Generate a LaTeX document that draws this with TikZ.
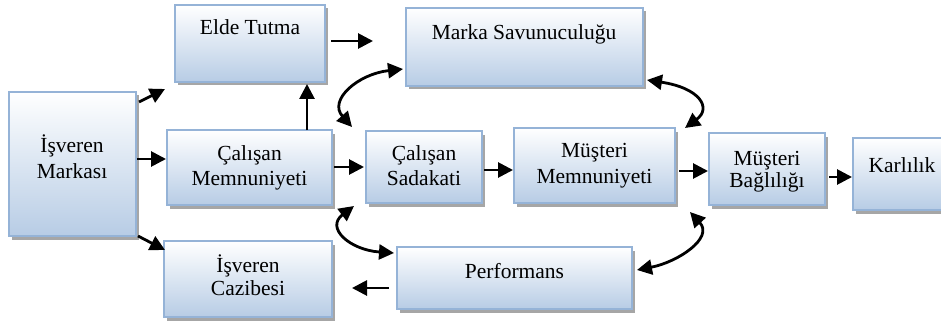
\documentclass[tikz,border=0pt]{standalone}
\usepackage{fontspec}
\setmainfont{Liberation Serif}
\usetikzlibrary{arrows.meta,shadows}
\definecolor{bordc}{RGB}{149,179,215}
\definecolor{botc}{RGB}{183,204,229}
\tikzset{
  box/.style={draw=bordc, line width=2.8pt, top color=white, bottom color=botc,
    drop shadow={shadow xshift=3pt, shadow yshift=-3.5pt, fill=black, opacity=0.35},
    inner sep=0pt},
  lbl/.style={font=\fontsize{21.5}{26}\selectfont, inner sep=0pt, anchor=base},
  arr/.style={line width=2.8pt, -{Triangle[length=15pt,width=15pt]}},
  darr/.style={line width=2.8pt, {Triangle[length=15pt,width=15pt]}-{Triangle[length=15pt,width=15pt]}},
}
\begin{document}
\begin{tikzpicture}[x=1pt,y=-1pt]
\useasboundingbox (0,0) rectangle (941,326);
% boxes
\node[box, minimum width=150pt, minimum height=77pt] (elde) at (250,43.5) {};
\node[box, minimum width=237pt, minimum height=78pt] (marka) at (524.5,47) {};
\node[box, minimum width=127pt, minimum height=144pt] (im) at (72.5,164) {};
\node[box, minimum width=165pt, minimum height=75pt] (cm) at (249.5,167.5) {};
\node[box, minimum width=116pt, minimum height=72pt] (cs) at (424,167) {};
\node[box, minimum width=161pt, minimum height=75pt] (mm) at (594.5,165.5) {};
\node[box, minimum width=116pt, minimum height=72pt] (mb) at (767,169) {};
\node[box, minimum width=110pt, minimum height=72pt] (kar) at (908,174) {};
\node[box, minimum width=168pt, minimum height=76pt] (ic) at (248,279) {};
\node[box, minimum width=235pt, minimum height=62pt] (perf) at (514.5,278) {};
% texts
\node[lbl] (t1) at (250,35) {Elde Tutma};
\node[lbl] (t2) at (524,40) {Marka Savunuculuğu};
\node[lbl] (t3a) at (72,152) {İşveren};
\node[lbl] (t3b) at (72,178) {Markası};
\node[lbl] (t4a) at (249.5,160) {Çalışan};
\node[lbl] (t4b) at (249.5,185) {Memnuniyeti};
\node[lbl] (t5a) at (424,160) {Çalışan};
\node[lbl] (t5b) at (424,185) {Sadakati};
\node[lbl] (t6a) at (594.5,157) {Müşteri};
\node[lbl] (t6b) at (594.5,183) {Memnuniyeti};
\node[lbl] (t7a) at (767,165) {Müşteri};
\node[lbl] (t7b) at (767,187) {Bağlılığı};
\node[lbl] (t8) at (902,172) {Karlılık};
\node[lbl] (t9a) at (248,272) {İşveren};
\node[lbl] (t9b) at (248,295) {Cazibesi};
\node[lbl] (t10) at (514.5,278) {Performans};
% connector ends
\coordinate (a1s) at (331,41);  \coordinate (a1e) at (373,41);
\coordinate (a2s) at (139,102); \coordinate (a2e) at (165,89);
\coordinate (a3s) at (137,159); \coordinate (a3e) at (166,159);
\coordinate (a4s) at (138,236); \coordinate (a4e) at (165,250);
\coordinate (a5s) at (307,130); \coordinate (a5e) at (307,84);
\coordinate (a6s) at (334,167); \coordinate (a6e) at (364,167);
\coordinate (a7s) at (484,170); \coordinate (a7e) at (513,170);
\coordinate (a8s) at (679,171); \coordinate (a8e) at (708,171);
\coordinate (a9s) at (829,177); \coordinate (a9e) at (852,177);
\coordinate (a10s) at (389,288); \coordinate (a10e) at (352,288);
\coordinate (c1a) at (352,127); \coordinate (c1b) at (403,69);
\coordinate (c2a) at (647,80);  \coordinate (c2b) at (685,128);
\coordinate (c3a) at (354,206); \coordinate (c3b) at (394,253);
\coordinate (c4a) at (690,212); \coordinate (c4b) at (637,270);
% straight arrows
\draw[arr] (a1s) -- (a1e);
\draw[arr] (a2s) -- (a2e);
\draw[arr] (a3s) -- (a3e);
\draw[arr] (a4s) -- (a4e);
\draw[arr] (a5s) -- (a5e);
\draw[arr] (a6s) -- (a6e);
\draw[arr] (a7s) -- (a7e);
\draw[arr] (a8s) -- (a8e);
\draw[arr] (a9s) -- (a9e);
\draw[arr] (a10s) -- (a10e);
% curved double arrows
\draw[darr] (c1a) .. controls (328,100) and (358,74) .. (c1b);
\draw[darr] (c2a) .. controls (700,88) and (712,108) .. (c2b);
\draw[darr] (c3a) .. controls (325,228) and (350,250) .. (c3b);
\draw[darr] (c4a) .. controls (714,238) and (678,262) .. (c4b);
\end{tikzpicture}
\end{document}
